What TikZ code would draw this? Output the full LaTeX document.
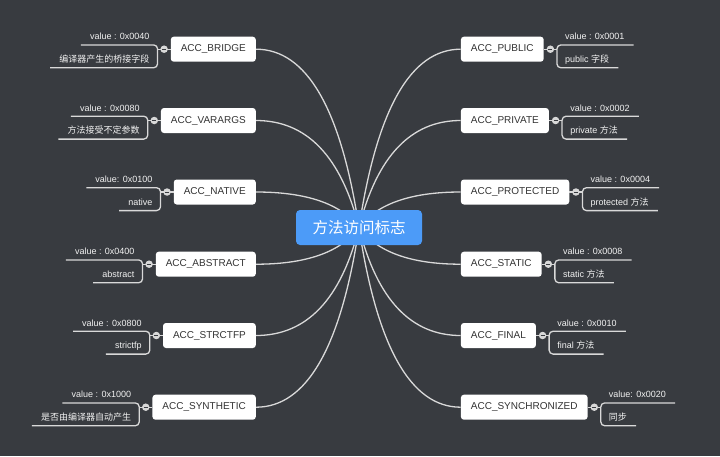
\documentclass[tikz,border=0pt]{standalone}
\usepackage{fontspec}
\setmainfont{Liberation Sans}
\newfontfamily\cjk{Noto Sans CJK SC}
\usetikzlibrary{calc}
\definecolor{bgc}{HTML}{383B40}
\definecolor{rootc}{HTML}{4C9BF8}
\definecolor{linec}{HTML}{D9D9D9}
\definecolor{boxtext}{HTML}{333333}
\definecolor{labc}{HTML}{F2F2F2}
\definecolor{knobc}{HTML}{D8D8D8}
\pgfdeclarelayer{bglayer}
\pgfdeclarelayer{edgelayer}
\pgfsetlayers{bglayer,edgelayer,main}
\tikzset{
  topicbox/.style={fill=white, rounded corners=3pt, minimum height=25pt, inner xsep=10pt, inner ysep=0pt, text=boxtext, font=\fontsize{10}{12}\selectfont},
  rootbox/.style={fill=rootc, rounded corners=4pt, minimum width=126pt, minimum height=35pt, text=white, font=\fontsize{15.5}{18}\cjk},
  notetext/.style={inner sep=0pt, text=labc, font=\fontsize{9}{11}\selectfont},
  knobdot/.style={circle, fill=knobc, minimum size=7.5pt, inner sep=0pt},
  ruleline/.style={draw=linec, line width=1.3pt},
  edgeline/.style={draw=linec, line width=1.3pt},
  minusline/.style={draw=bgc, line width=1pt}
}
\newcommand\leftbranch[5]{%
  \node[topicbox, anchor=east] (#1) at (256,#2) {#3};
  \coordinate (#1q) at (rl |- #1.east);
  \begin{pgfonlayer}{edgelayer}
    \draw[edgeline] (#1.east) .. controls ($(#1.east)!0.6667!(#1q)$) and ($(rootpt)!0.6667!(#1q)$) .. (rootpt);
  \end{pgfonlayer}
  \coordinate (#1t) at ([xshift=-13pt,yshift=4.3pt]#1.west);
  \coordinate (#1u) at ([xshift=-13pt,yshift=-18.6pt]#1.west);
  \node[notetext, anchor=base east] (#1v) at ([xshift=-21pt,yshift=9.3pt]#1.west) {#4};
  \node[notetext, anchor=base east] (#1d) at ([xshift=-21pt,yshift=-13.1pt]#1.west) {#5};
  \coordinate (#1vs) at ([xshift=-9pt]#1v.west);
  \coordinate (#1ds) at ([xshift=-9pt]#1d.west);
  \draw[ruleline] (#1.west) -- (#1t |- #1.west);
  \draw[ruleline, rounded corners=4pt] (#1vs |- #1t) -- (#1t) -- (#1u) -- (#1ds |- #1u);
  \node[knobdot] (#1k) at ([xshift=-6.5pt]#1.west) {};
  \draw[minusline] ([xshift=-2pt]#1k.center) -- ([xshift=2pt]#1k.center);
}
\newcommand\rightbranch[5]{%
  \node[topicbox, anchor=west] (#1) at (460.7,#2) {#3};
  \coordinate (#1q) at (rr |- #1.west);
  \begin{pgfonlayer}{edgelayer}
    \draw[edgeline] (#1.west) .. controls ($(#1.west)!0.6667!(#1q)$) and ($(rootpt)!0.6667!(#1q)$) .. (rootpt);
  \end{pgfonlayer}
  \coordinate (#1t) at ([xshift=13pt,yshift=4.3pt]#1.east);
  \coordinate (#1u) at ([xshift=13pt,yshift=-18.6pt]#1.east);
  \node[notetext, anchor=base west] (#1v) at ([xshift=21pt,yshift=9.3pt]#1.east) {#4};
  \node[notetext, anchor=base west] (#1d) at ([xshift=21pt,yshift=-13.1pt]#1.east) {#5};
  \coordinate (#1vs) at ([xshift=9pt]#1v.east);
  \coordinate (#1ds) at ([xshift=9pt]#1d.east);
  \draw[ruleline] (#1.east) -- (#1t |- #1.east);
  \draw[ruleline, rounded corners=4pt] (#1vs |- #1t) -- (#1t) -- (#1u) -- (#1ds |- #1u);
  \node[knobdot] (#1k) at ([xshift=6.5pt]#1.east) {};
  \draw[minusline] ([xshift=-2pt]#1k.center) -- ([xshift=2pt]#1k.center);
}
\begin{document}
\begin{tikzpicture}[x=1pt, y=-1pt]
\begin{pgfonlayer}{bglayer}
  \fill[bgc] (0,0) rectangle (720,456);
\end{pgfonlayer}
\useasboundingbox (0,0) rectangle (720,456);
\coordinate (rootpt) at (359,227.5);
\coordinate (rl) at (332,227.5);
\coordinate (rr) at (386,227.5);
\node[rootbox] (root) at (rootpt) {方法访问标志};
\leftbranch{L1}{49.2}{ACC\_BRIDGE}{value : 0x0040}{{\cjk 编译器产生的桥接字段}}
\leftbranch{L2}{120.5}{ACC\_VARARGS}{value : 0x0080}{{\cjk 方法接受不定参数}}
\leftbranch{L3}{192}{ACC\_NATIVE}{value: 0x0100}{native}
\leftbranch{L4}{264.2}{ACC\_ABSTRACT}{value : 0x0400}{abstract}
\leftbranch{L5}{335.5}{ACC\_STRCTFP}{value : 0x0800}{strictfp}
\leftbranch{L6}{407.2}{ACC\_SYNTHETIC}{value : 0x1000}{{\cjk 是否由编译器自动产生}}
\rightbranch{R1}{49.2}{ACC\_PUBLIC}{value : 0x0001}{public {\cjk 字段}}
\rightbranch{R2}{120.5}{ACC\_PRIVATE}{value : 0x0002}{private {\cjk 方法}}
\rightbranch{R3}{192}{ACC\_PROTECTED}{value : 0x0004}{protected {\cjk 方法}}
\rightbranch{R4}{264.2}{ACC\_STATIC}{value : 0x0008}{static {\cjk 方法}}
\rightbranch{R5}{335.5}{ACC\_FINAL}{value : 0x0010}{final {\cjk 方法}}
\rightbranch{R6}{407.2}{ACC\_SYNCHRONIZED}{value: 0x0020}{{\cjk 同步}}
\end{tikzpicture}
\end{document}
